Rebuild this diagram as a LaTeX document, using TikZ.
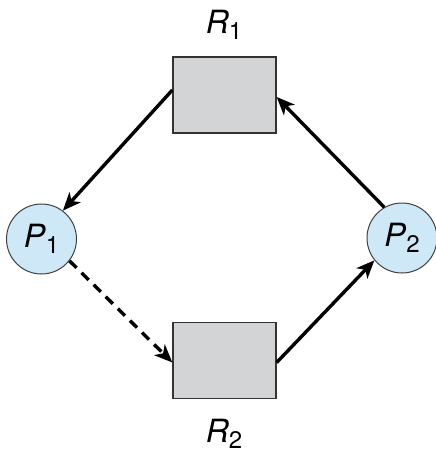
\documentclass[tikz,border=0pt]{standalone}
\usepackage{fontspec}
\setmainfont{TeX Gyre Heros}
\usetikzlibrary{arrows.meta}
\definecolor{boxgray}{HTML}{D2D4D6}
\definecolor{procblue}{HTML}{CFE8F7}
\tikzset{
  res/.style={draw=black!80, line width=1.3pt, fill=boxgray, minimum width=103pt, minimum height=76pt, inner sep=0pt},
  proc/.style={circle, draw=black!75, line width=1pt, fill=procblue, minimum size=70pt, inner sep=0pt, font=\fontsize{32}{32}\selectfont},
  lbl/.style={font=\fontsize{32}{32}\selectfont, inner sep=0pt},
  edge/.style={line width=3.4pt, -{Stealth[length=18pt,width=15pt,inset=5pt]}},
}
\newcommand{\lab}[2]{\textit{#1}\raisebox{-0.35ex}{\fontsize{24}{24}\selectfont #2}}
\begin{document}
\begin{tikzpicture}[x=1pt,y=-1pt]
\useasboundingbox (0,0) rectangle (436,458);
\fill[white] (0,0) rectangle (436,458);
\node[res] (R1) at (224.5,95) {};
\node[res] (R2) at (224.5,360.5) {};
\node[proc] (P1) at (41.5,239) {\lab{P}{1}};
\node[proc] (P2) at (402,238) {\lab{P}{2}};
\node[lbl] (L1) at (224,25) {\lab{R}{1}};
\node[lbl] (L2) at (224,434) {\lab{R}{2}};
\draw[edge] ([yshift=5pt]R1.west) -- (P1.53);
\draw[edge] (P2.120) -- ([yshift=-2pt]R1.east);
\draw[edge, dash pattern=on 10pt off 7pt] (P1.-38) -- ([yshift=-2pt]R2.west);
\draw[edge] ([yshift=-2pt]R2.east) -- (P2.219);
\end{tikzpicture}
\end{document}
